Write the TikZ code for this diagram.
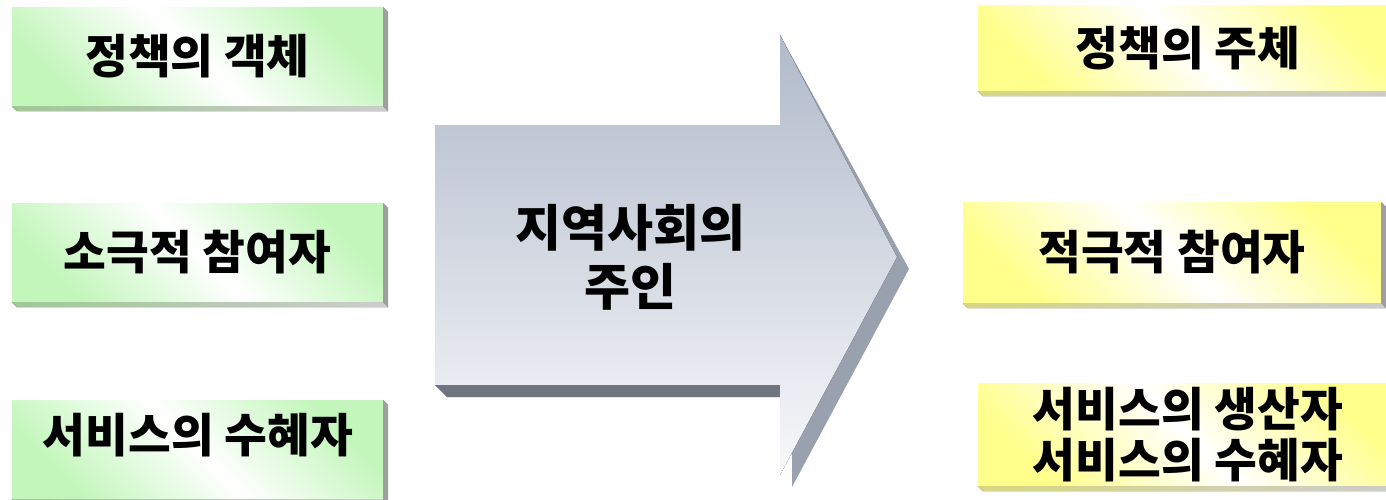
\documentclass[tikz,border=0pt]{standalone}
\usepackage{fontspec}
\newfontfamily\krfont{Noto Sans CJK KR}
\usetikzlibrary{calc}

\definecolor{boxgreen}{RGB}{194,246,186}
\definecolor{boxyellow}{RGB}{255,255,140}
\definecolor{edgegreen}{RGB}{160,200,150}
\definecolor{edgeyellow}{RGB}{215,215,130}
\definecolor{arrowtop}{RGB}{176,186,202}
\definecolor{arrowbottom}{RGB}{247,248,250}
\definecolor{arrowside}{RGB}{152,161,173}
\definecolor{arrowfoot}{RGB}{111,117,128}

% bevel on the right and lower edge of a box
\newcommand{\boxedge}[2]{%
  \fill[left color=#2, right color=gray!40] (#1.south west) -- (#1.south east)
    -- ($(#1.south east)+(5,5)$) -- ($(#1.south west)+(5,5)$) -- cycle;
  \fill[gray!75] (#1.north east) -- ($(#1.north east)+(5,5)$)
    -- ($(#1.south east)+(5,5)$) -- (#1.south east) -- cycle;}

\begin{document}
\begin{tikzpicture}[
    x=1pt, y=-1pt,
    label/.style={font=\krfont\bfseries\fontsize{46.5}{50.5}\selectfont, align=center, inner sep=0pt},
    greenbox/.style={label, left color=boxgreen, right color=boxgreen, middle color=white, shading angle=135},
    yellowbox/.style={label, left color=boxyellow, right color=boxyellow, middle color=white, shading angle=135},
    hubtext/.style={font=\krfont\bfseries\fontsize{50}{59}\selectfont, align=center, inner sep=0pt}
]
\useasboundingbox (0,0) rectangle (1386,499);
\clip (0,0) rectangle (1386,499);

% Big arrow
\fill[arrowside] (447,137) -- (780,137) -- (780,35) -- (909,269) -- (792,487) -- (792,397) -- (447,397) -- cycle;
\fill[arrowfoot] (435,385) -- (780,385) -- (780,397) -- (447,397) -- cycle;
\fill[top color=arrowtop, bottom color=arrowbottom] (435,125) -- (780,125) -- (780,35) -- (897,257) -- (780,475) -- (780,385) -- (435,385) -- cycle;
\node[hubtext] (hub) at (630,257.5) {지역사회의\\주인};

% Left: before
\node[greenbox, minimum width=371, minimum height=99] (lb1) at (197.5,56.5) {정책의 객체};
\node[greenbox, minimum width=371, minimum height=99] (lb2) at (197.5,252.5) {소극적 참여자};
\node[greenbox, minimum width=371, minimum height=99] (lb3) at (197.5,449.5) {};
\node[label] (lb3text) at (198,435) {서비스의 수혜자};

% Right: after
\node[yellowbox, minimum width=420, minimum height=86] (rb1) at (1188,48) {정책의 주체};
\node[yellowbox, minimum width=418, minimum height=101] (rb2) at (1172,252.5) {적극적 참여자};
\node[yellowbox, minimum width=420, minimum height=103] (rb3) at (1188,434.5) {서비스의 생산자\\서비스의 수혜자};

\boxedge{lb1}{edgegreen}
\boxedge{lb2}{edgegreen}
\boxedge{lb3}{edgegreen}
\boxedge{rb1}{edgeyellow}
\boxedge{rb2}{edgeyellow}
\boxedge{rb3}{edgeyellow}
\end{tikzpicture}
\end{document}
